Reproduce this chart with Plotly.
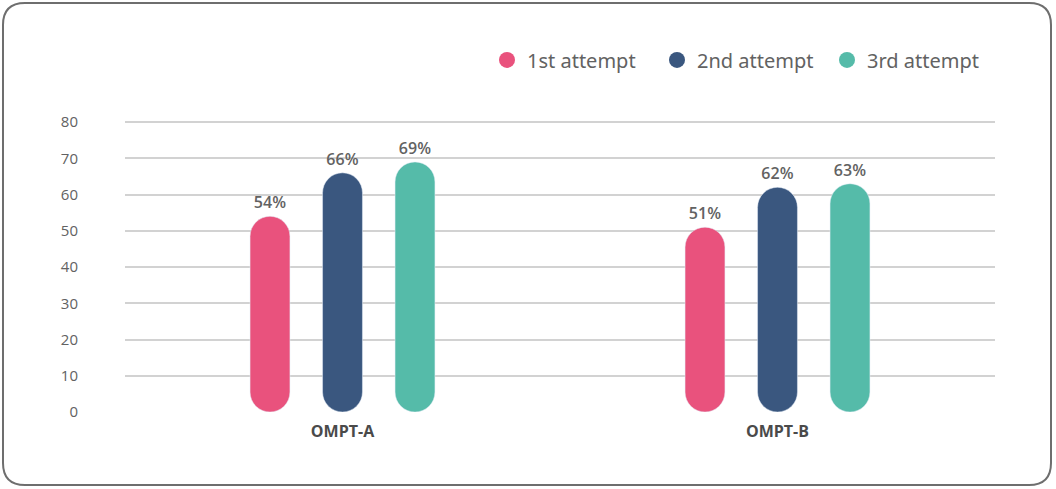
import plotly.graph_objects as go

# data
categories = ["OMPT-A", "OMPT-B"]
attempts = ["1st attempt", "2nd attempt", "3rd attempt"]
values = {
    "1st attempt": [54, 51],
    "2nd attempt": [66, 62],
    "3rd attempt": [69, 63],
}
y_ticks = [0, 10, 20, 30, 40, 50, 60, 70, 80]

COLORS = {
    "1st attempt": "#E9527D",
    "2nd attempt": "#3A577F",
    "3rd attempt": "#55BBA9",
}
TEXT = "#626262"

W, H = 1056, 489
M = dict(l=125, r=61, t=121, b=77)


def px_to_paper(x, y):
    pw = W - M["l"] - M["r"]
    ph = H - M["t"] - M["b"]
    return (x - M["l"]) / pw, (H - M["b"] - y) / ph


def rounded_box(x0, y0, x1, y1, r):
    """SVG path (paper coords) for a rounded rectangle given in pixels."""
    pts = [
        ("M", x0 + r, y0), ("L", x1 - r, y0), ("Q", x1, y0, x1, y0 + r),
        ("L", x1, y1 - r), ("Q", x1, y1, x1 - r, y1), ("L", x0 + r, y1),
        ("Q", x0, y1, x0, y1 - r), ("L", x0, y0 + r), ("Q", x0, y0, x0 + r, y0),
    ]
    out = []
    for p in pts:
        cmd, coords = p[0], p[1:]
        conv = []
        for i in range(0, len(coords), 2):
            px, py = px_to_paper(coords[i], coords[i + 1])
            conv.append(f"{px:.5f},{py:.5f}")
        out.append(cmd + " ".join(conv))
    return " ".join(out) + " Z"


fig = go.Figure()

for name in attempts:
    vals = values[name]
    # base set explicitly -> plotly rounds both ends (pill shape)
    fig.add_trace(go.Bar(
        x=categories, y=vals, base=[0] * len(vals), name=name,
        marker_color=COLORS[name], marker_cornerradius="50%",
        text=[f"{v}%" for v in vals], textposition="outside",
        textfont=dict(size=16, color=TEXT, family="Open Sans", weight=600),
        cliponaxis=False, showlegend=False, hoverinfo="skip",
    ))
    # legend entry with round marker
    fig.add_trace(go.Scatter(
        x=[None], y=[None], mode="markers", name=name,
        marker=dict(color=COLORS[name], size=16, symbol="circle"),
    ))

fig.add_shape(
    type="path", xref="paper", yref="paper",
    path=rounded_box(3, 3, 1051, 485, 22),
    line=dict(color="#6e6e6e", width=2), layer="below",
)

lx, _ = px_to_paper(487, 0)
fig.update_layout(
    width=W, height=H, margin=M,
    paper_bgcolor="white", plot_bgcolor="white",
    barmode="group", bargap=0.5, bargroupgap=0.45,
    legend=dict(
        orientation="h", x=lx, xanchor="left", y=1.21, yanchor="middle",
        font=dict(size=20, color=TEXT, family="Noto Sans"),
        itemwidth=30, entrywidth=125, bgcolor="rgba(0,0,0,0)",
    ),
    xaxis=dict(
        showgrid=False, showline=False, ticks="", ticklabelstandoff=8,
        tickfont=dict(size=16, color="#4a4a4a", family="Open Sans", weight="bold"),
    ),
    yaxis=dict(
        range=[0, 80.3], tickvals=y_ticks, ticktext=[str(t) for t in y_ticks],
        showgrid=True, gridcolor="#d2d2d2", gridwidth=1.5,
        zeroline=True, zerolinecolor="white", zerolinewidth=2,
        showline=False, ticks="", ticklabelstandoff=46,
        tickfont=dict(size=15, color=TEXT, family="Open Sans"),
    ),
    font=dict(family="Open Sans", color=TEXT),
)

# page body has an 8px default margin; drop it so the figure sits at 0,0
fig.write_html(
    "out.html",
    config={"displayModeBar": False},
    post_script="document.body.style.margin='0px';",
)
